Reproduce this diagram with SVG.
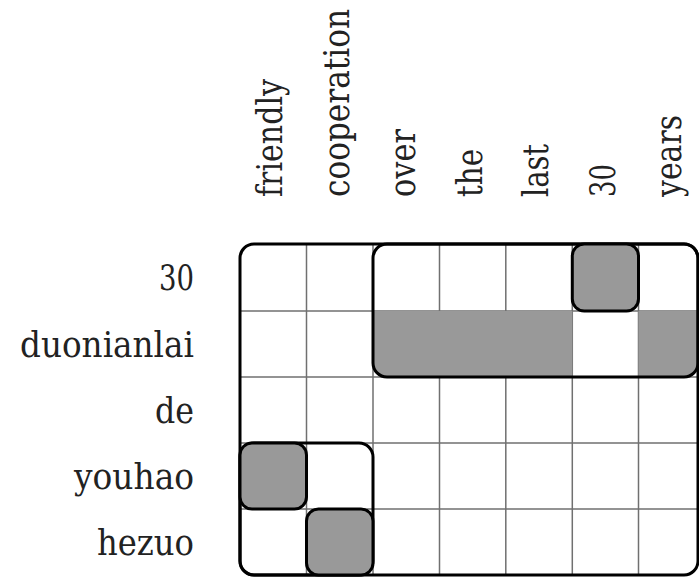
<svg xmlns="http://www.w3.org/2000/svg" width="699" height="579" viewBox="0 0 699 579">
<style>
.lbl{font-family:"DejaVu Serif",serif;font-size:35px;fill:#222}
.row{text-anchor:end}
.grid{stroke:#707070;stroke-width:1.5;fill:none}
.box{fill:none;stroke:#000;stroke-width:3}
.cell{fill:#999;stroke:#000;stroke-width:3}
.shade{fill:#999}
</style>
<defs>
<clipPath id="topbox"><rect x="373" y="244" width="325" height="133" rx="14"/></clipPath>
</defs>
<rect width="699" height="579" fill="#fff"/>
<g id="col-labels">
<text class="lbl" transform="translate(282,197) rotate(-90)" textLength="118" lengthAdjust="spacingAndGlyphs">friendly</text>
<text class="lbl" transform="translate(348.5,197) rotate(-90)" textLength="188" lengthAdjust="spacingAndGlyphs">cooperation</text>
<text class="lbl" transform="translate(415,197) rotate(-90)" textLength="68" lengthAdjust="spacingAndGlyphs">over</text>
<text class="lbl" transform="translate(481.5,197) rotate(-90)" textLength="48" lengthAdjust="spacingAndGlyphs">the</text>
<text class="lbl" transform="translate(548,197) rotate(-90)" textLength="53" lengthAdjust="spacingAndGlyphs">last</text>
<text class="lbl" transform="translate(614.5,197) rotate(-90)" textLength="33" lengthAdjust="spacingAndGlyphs">30</text>
<text class="lbl" transform="translate(681,197) rotate(-90)" textLength="82" lengthAdjust="spacingAndGlyphs">years</text>
</g>
<g id="row-labels">
<text class="lbl row" x="194" y="290" textLength="35" lengthAdjust="spacingAndGlyphs">30</text>
<text class="lbl row" x="194" y="356.5" textLength="174" lengthAdjust="spacingAndGlyphs">duonianlai</text>
<text class="lbl row" x="194" y="422.5" textLength="39" lengthAdjust="spacingAndGlyphs">de</text>
<text class="lbl row" x="194" y="488.5" textLength="120" lengthAdjust="spacingAndGlyphs">youhao</text>
<text class="lbl row" x="194" y="554.5" textLength="97" lengthAdjust="spacingAndGlyphs">hezuo</text>
</g>
<g id="grid">
<path class="grid" d="M306.5 244V575M373 244V575M439.5 244V575M505.8 244V575M572.3 244V575M638.5 244V575M240 311H698M240 377H698M240 443H698M240 509H698"/>
</g>
<g id="shading" clip-path="url(#topbox)">
<rect class="shade" x="373" y="311" width="199.3" height="66"/>
<rect class="shade" x="638.5" y="311" width="60" height="66"/>
</g>
<g id="connectors">
<rect id="outer" class="box" x="240" y="244" width="458" height="331" rx="14"/>
<rect id="span-top" class="box" x="373" y="244" width="325" height="133" rx="14"/>
<rect id="span-bottom" class="box" x="240" y="443" width="133" height="132" rx="14"/>
</g>
<g id="cell-30-30"><rect class="cell" x="572.3" y="244" width="66.2" height="67" rx="12"/></g>
<g id="cell-youhao-friendly"><rect class="cell" x="240" y="443" width="66.5" height="66" rx="12"/></g>
<g id="cell-hezuo-cooperation"><rect class="cell" x="306.5" y="509" width="66.5" height="66" rx="12"/></g>
</svg>
